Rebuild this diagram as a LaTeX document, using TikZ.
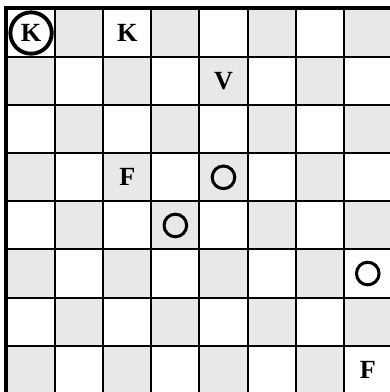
\documentclass[tikz,border=0pt]{standalone}
\usepackage{fontspec}
\setmainfont{Liberation Serif}
\begin{document}
\begin{tikzpicture}[
    cell/.style={draw, line width=1.2pt, minimum size=1cm, inner sep=0pt},
    light/.style={cell, fill=white},
    dark/.style={cell, fill=black!9},
    piece/.style={font=\fontsize{15.5}{18}\selectfont\bfseries, inner sep=0pt},
    ring/.style={draw, circle, line width=1.8pt, minimum size=0.47cm, inner sep=0pt},
    bigring/.style={draw, circle, line width=2.3pt, minimum size=0.86cm, inner sep=0pt}
]
\useasboundingbox (-0.146,0.037) rectangle (7.962,8.187);
\clip (-0.146,0.037) rectangle (7.962,8.187);

% --- board: dark squares where row+col is odd ---
\foreach \r in {0,...,7} {
    \foreach \c in {0,...,7} {
        \pgfmathtruncatemacro{\odd}{mod(\r+\c,2)}
        \ifnum\odd=1
            \node[dark] (c-\r-\c) at (\c+0.5,7.5-\r) {};
        \else
            \node[light] (c-\r-\c) at (\c+0.5,7.5-\r) {};
        \fi
    }
}
\draw[line width=1.8pt] (c-0-0.north west) rectangle (c-7-7.south east);

% --- pieces ---
\node[piece] (k-a) at (c-0-0) {K};
\node[bigring] (k-a-ring) at (c-0-0) {};
\foreach \r/\c/\name/\txt in {0/2/k-b/K, 1/4/v/V, 3/2/f-a/F, 7/7/f-b/F} {
    \node[piece] (\name) at (c-\r-\c) {\txt};
}

% --- empty rings ---
\foreach \r/\c [count=\i] in {3/4, 4/3, 5/7} {
    \node[ring] (o-\i) at (c-\r-\c) {};
}

\end{tikzpicture}
\end{document}
